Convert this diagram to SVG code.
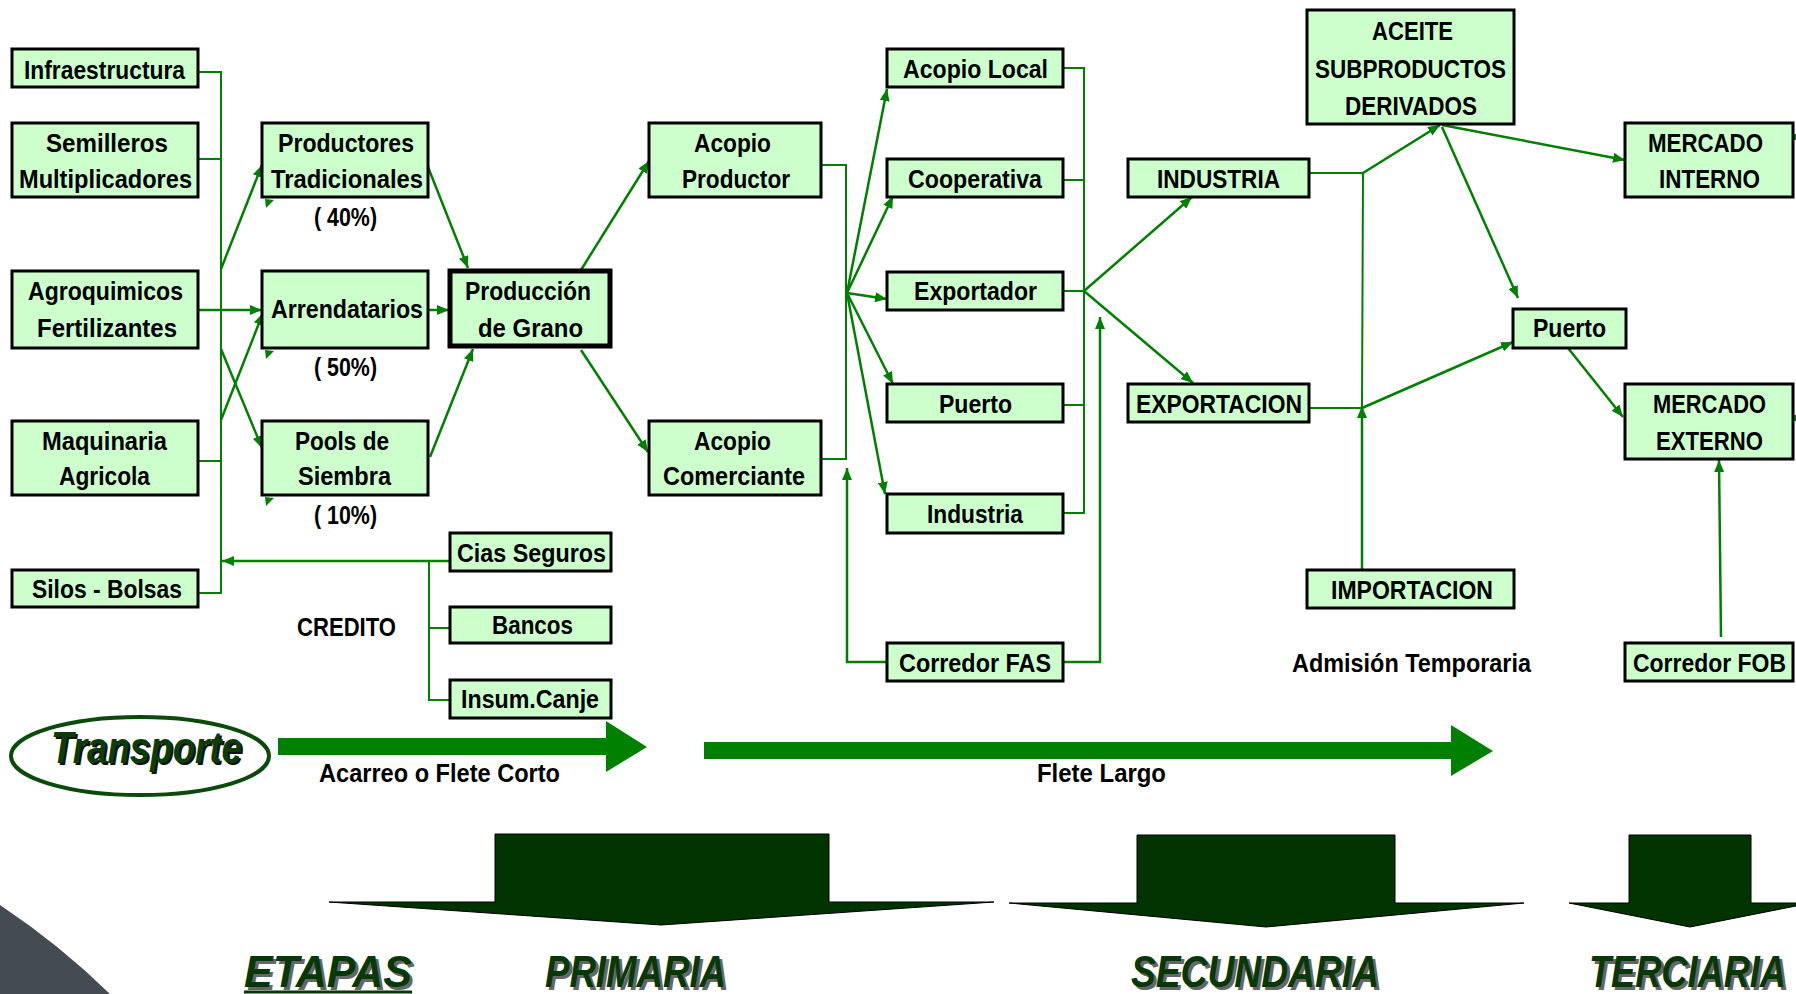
<svg xmlns="http://www.w3.org/2000/svg" width="1796" height="994" viewBox="0 0 1796 994">
<style>
.box{fill:#ccffcc;stroke:#000;stroke-width:3}
.thick{fill:#ccffcc;stroke:#000;stroke-width:5}
.t{font-family:"Liberation Sans",Arial,sans-serif;font-weight:bold;font-size:26px;fill:#000;text-anchor:middle}
.tu{font-family:"Liberation Sans",Arial,sans-serif;font-weight:bold;font-size:25px;fill:#000;text-anchor:middle}
.ln{fill:none;stroke:#008000;stroke-width:2}
.ar{fill:none;stroke:#008000;stroke-width:2.5;marker-end:url(#ah)}
.big{fill:#023402;stroke:#000;stroke-width:1}
.fl{fill:#008000}
.hd{font-family:"Liberation Sans",Arial,sans-serif;font-weight:bold;font-style:italic;font-size:44px;text-anchor:middle}
</style>
<defs>
<marker id="ah" markerUnits="userSpaceOnUse" markerWidth="13" markerHeight="10" refX="12" refY="5" orient="auto">
<path d="M0,0 L12,5 L0,10 z" fill="#008000"/>
</marker>
</defs>
<rect width="1796" height="994" fill="#fff"/>
<path d="M0,905 Q60,945 110,994 L0,994 Z" fill="#454b52"/>

<g id="connectors">
<polyline class="ln" points="198,72 221,72 221,593 198,593"/>
<line class="ln" x1="198" y1="159" x2="221" y2="159"/>
<line class="ln" x1="198" y1="461" x2="221" y2="461"/>
<line class="ar" x1="198" y1="310" x2="262" y2="310"/>
<line class="ar" x1="221" y1="269" x2="262" y2="165"/>
<line class="ar" x1="221" y1="349" x2="262" y2="448"/>
<line class="ar" x1="221" y1="420" x2="263" y2="313"/>
<line class="ar" x1="450" y1="561" x2="222" y2="561"/>
<polyline class="ln" points="450,628 429,628 429,561"/>
<polyline class="ln" points="450,700 429,700 429,628"/>
<polygon class="fl" points="265,199 274,200 266,208"/>
<polygon class="fl" points="265,350 274,351 266,359"/>
<polygon class="fl" points="265,497 274,498 266,506"/>
<line class="ar" x1="428" y1="167" x2="468" y2="268"/>
<line class="ar" x1="428" y1="310" x2="449" y2="310"/>
<line class="ar" x1="430" y1="457" x2="473" y2="349"/>
<line class="ar" x1="581" y1="270" x2="649" y2="161"/>
<line class="ar" x1="581" y1="350" x2="648" y2="452"/>
<polyline class="ln" points="821,165 846,165 846,459 821,459"/>
<line class="ar" x1="847" y1="293" x2="887" y2="89"/>
<line class="ar" x1="847" y1="293" x2="893" y2="196"/>
<line class="ar" x1="847" y1="293" x2="887" y2="299"/>
<line class="ar" x1="847" y1="293" x2="893" y2="384"/>
<line class="ar" x1="847" y1="293" x2="885" y2="494"/>
<polyline class="ar" points="887,662 847,662 847,468"/>
<polyline class="ln" points="1063,68 1084,68 1084,513 1063,513"/>
<line class="ln" x1="1063" y1="180" x2="1084" y2="180"/>
<line class="ln" x1="1063" y1="291" x2="1084" y2="291"/>
<line class="ln" x1="1063" y1="405" x2="1084" y2="405"/>
<line class="ar" x1="1084" y1="291" x2="1192" y2="197"/>
<line class="ar" x1="1084" y1="291" x2="1193" y2="383"/>
<polyline class="ar" points="1063,662 1100,662 1100,317"/>
<polyline class="ln" points="1309,173 1363,173"/>
<line class="ar" x1="1363" y1="173" x2="1440" y2="125"/>
<polyline class="ln" points="1309,408 1362,408"/>
<line class="ar" x1="1362" y1="408" x2="1513" y2="342"/>
<line class="ar" x1="1362" y1="570" x2="1362" y2="406"/>
<line class="ln" x1="1362" y1="408" x2="1363" y2="173"/>
<line class="ar" x1="1442" y1="125" x2="1625" y2="160"/>
<line class="ar" x1="1442" y1="127" x2="1518" y2="298"/>
<line class="ar" x1="1568" y1="348" x2="1623" y2="417"/>
<line class="ar" x1="1721" y1="637" x2="1719" y2="460"/>
<rect class="fl" x="1793" y="134" width="3" height="6"/>
<rect class="fl" x="1793" y="415" width="3" height="6"/>
</g>

<g id="n-infraestructura"><rect class="box" x="12" y="49" width="186" height="38"/><text class="t" x="104.5" y="79" textLength="161" lengthAdjust="spacingAndGlyphs">Infraestructura</text></g>
<g id="n-semilleros"><rect class="box" x="12" y="123" width="186" height="74"/><text class="t" x="107" y="152" textLength="122" lengthAdjust="spacingAndGlyphs">Semilleros</text><text class="t" x="105.5" y="188" textLength="173" lengthAdjust="spacingAndGlyphs">Multiplicadores</text></g>
<g id="n-agroquimicos"><rect class="box" x="12" y="271" width="186" height="77"/><text class="t" x="105.5" y="300" textLength="155" lengthAdjust="spacingAndGlyphs">Agroquimicos</text><text class="t" x="107" y="337" textLength="140" lengthAdjust="spacingAndGlyphs">Fertilizantes</text></g>
<g id="n-maquinaria"><rect class="box" x="12" y="421" width="186" height="74"/><text class="t" x="104.5" y="450" textLength="125" lengthAdjust="spacingAndGlyphs">Maquinaria</text><text class="t" x="104.5" y="485" textLength="91" lengthAdjust="spacingAndGlyphs">Agricola</text></g>
<g id="n-silos"><rect class="box" x="12" y="570" width="186" height="37"/><text class="t" x="107" y="598" textLength="150" lengthAdjust="spacingAndGlyphs">Silos - Bolsas</text></g>

<g id="n-productores"><rect class="box" x="262" y="123" width="166" height="74"/><text class="t" x="346" y="152" textLength="136" lengthAdjust="spacingAndGlyphs">Productores</text><text class="t" x="347" y="188" textLength="152" lengthAdjust="spacingAndGlyphs">Tradicionales</text><text class="t" x="345.5" y="226" textLength="63" lengthAdjust="spacingAndGlyphs">( 40%)</text></g>
<g id="n-arrendatarios"><rect class="box" x="262" y="271" width="166" height="77"/><text class="t" x="347" y="318" textLength="152" lengthAdjust="spacingAndGlyphs">Arrendatarios</text><text class="t" x="345.5" y="376" textLength="63" lengthAdjust="spacingAndGlyphs">( 50%)</text></g>
<g id="n-pools"><rect class="box" x="262" y="421" width="166" height="74"/><text class="t" x="342" y="450" textLength="94" lengthAdjust="spacingAndGlyphs">Pools de</text><text class="t" x="344.5" y="485" textLength="93" lengthAdjust="spacingAndGlyphs">Siembra</text><text class="t" x="345.5" y="524" textLength="63" lengthAdjust="spacingAndGlyphs">( 10%)</text></g>

<g id="n-produccion"><rect class="thick" x="450" y="271" width="160" height="75"/><text class="t" x="528" y="300" textLength="126" lengthAdjust="spacingAndGlyphs">Producción</text><text class="t" x="530.5" y="337" textLength="105" lengthAdjust="spacingAndGlyphs">de Grano</text></g>

<g id="n-cias"><rect class="box" x="450" y="533" width="161" height="38"/><text class="t" x="531.5" y="562" textLength="149" lengthAdjust="spacingAndGlyphs">Cias Seguros</text></g>
<g id="n-bancos"><rect class="box" x="450" y="607" width="161" height="36"/><text class="t" x="532.5" y="634" textLength="81" lengthAdjust="spacingAndGlyphs">Bancos</text></g>
<g id="n-insum"><rect class="box" x="450" y="680" width="161" height="38"/><text class="t" x="530" y="708" textLength="138" lengthAdjust="spacingAndGlyphs">Insum.Canje</text></g>
<g id="l-credito"><text class="t" x="346.5" y="636" textLength="99" lengthAdjust="spacingAndGlyphs">CREDITO</text></g>

<g id="n-acopio-productor"><rect class="box" x="649" y="123" width="172" height="74"/><text class="t" x="732.5" y="152" textLength="77" lengthAdjust="spacingAndGlyphs">Acopio</text><text class="t" x="736" y="188" textLength="108" lengthAdjust="spacingAndGlyphs">Productor</text></g>
<g id="n-acopio-comerciante"><rect class="box" x="649" y="421" width="172" height="74"/><text class="t" x="732.5" y="450" textLength="77" lengthAdjust="spacingAndGlyphs">Acopio</text><text class="t" x="734" y="485" textLength="142" lengthAdjust="spacingAndGlyphs">Comerciante</text></g>

<g id="n-acopio-local"><rect class="box" x="887" y="49" width="176" height="38"/><text class="t" x="975.5" y="78" textLength="145" lengthAdjust="spacingAndGlyphs">Acopio Local</text></g>
<g id="n-cooperativa"><rect class="box" x="887" y="159" width="176" height="38"/><text class="t" x="975" y="188" textLength="134" lengthAdjust="spacingAndGlyphs">Cooperativa</text></g>
<g id="n-exportador"><rect class="box" x="887" y="272" width="176" height="38"/><text class="t" x="975.5" y="300" textLength="123" lengthAdjust="spacingAndGlyphs">Exportador</text></g>
<g id="n-puerto1"><rect class="box" x="887" y="384" width="176" height="38"/><text class="t" x="975.5" y="413" textLength="73" lengthAdjust="spacingAndGlyphs">Puerto</text></g>
<g id="n-industria1"><rect class="box" x="887" y="494" width="176" height="39"/><text class="t" x="975" y="523" textLength="96" lengthAdjust="spacingAndGlyphs">Industria</text></g>
<g id="n-corredor-fas"><rect class="box" x="887" y="643" width="176" height="38"/><text class="t" x="975" y="672" textLength="152" lengthAdjust="spacingAndGlyphs">Corredor FAS</text></g>

<g id="n-industria2"><rect class="box" x="1128" y="159" width="181" height="38"/><text class="t" x="1218.5" y="188" textLength="123" lengthAdjust="spacingAndGlyphs">INDUSTRIA</text></g>
<g id="n-exportacion"><rect class="box" x="1128" y="384" width="181" height="38"/><text class="t" x="1219" y="413" textLength="166" lengthAdjust="spacingAndGlyphs">EXPORTACION</text></g>

<g id="n-aceite"><rect class="box" x="1307" y="10" width="207" height="114"/><text class="tu" x="1412.5" y="40" textLength="81" lengthAdjust="spacingAndGlyphs">ACEITE</text><text class="tu" x="1410.5" y="78" textLength="191" lengthAdjust="spacingAndGlyphs">SUBPRODUCTOS</text><text class="tu" x="1411" y="115" textLength="132" lengthAdjust="spacingAndGlyphs">DERIVADOS</text></g>
<g id="n-importacion"><rect class="box" x="1307" y="570" width="207" height="38"/><text class="t" x="1412" y="599" textLength="162" lengthAdjust="spacingAndGlyphs">IMPORTACION</text></g>
<g id="l-admision"><text class="t" x="1411.5" y="672" textLength="239" lengthAdjust="spacingAndGlyphs">Admisión Temporaria</text></g>
<g id="n-puerto2"><rect class="box" x="1513" y="309" width="113" height="39"/><text class="t" x="1569.5" y="337" textLength="73" lengthAdjust="spacingAndGlyphs">Puerto</text></g>
<g id="n-mercado-interno"><rect class="box" x="1625" y="123" width="168" height="74"/><text class="tu" x="1705.5" y="152" textLength="115" lengthAdjust="spacingAndGlyphs">MERCADO</text><text class="tu" x="1709.5" y="188" textLength="101" lengthAdjust="spacingAndGlyphs">INTERNO</text></g>
<g id="n-mercado-externo"><rect class="box" x="1625" y="384" width="168" height="75"/><text class="tu" x="1709.5" y="413" textLength="113" lengthAdjust="spacingAndGlyphs">MERCADO</text><text class="tu" x="1709.5" y="450" textLength="107" lengthAdjust="spacingAndGlyphs">EXTERNO</text></g>
<g id="n-corredor-fob"><rect class="box" x="1625" y="643" width="168" height="38"/><text class="t" x="1709.5" y="672" textLength="153" lengthAdjust="spacingAndGlyphs">Corredor FOB</text></g>

<g id="transporte">
<ellipse cx="140" cy="756" rx="129" ry="39" fill="#fff" stroke="#0a4a0a" stroke-width="4"/>
<text class="hd" x="148.5" y="765" font-size="35" textLength="191" lengthAdjust="spacingAndGlyphs" fill="#111">Transporte</text>
<text class="hd" x="146.5" y="763" font-size="35" textLength="191" lengthAdjust="spacingAndGlyphs" fill="#0b3d0b">Transporte</text>
</g>
<g id="flete-corto">
<polygon class="fl" points="278,738 606,738 606,721 647,747 606,772 606,755 278,755"/>
<text class="t" x="439.5" y="782" font-weight="normal" textLength="241" lengthAdjust="spacingAndGlyphs">Acarreo o Flete Corto</text>
</g>
<g id="flete-largo">
<polygon class="fl" points="704,742 1451,742 1451,725 1493,751 1451,776 1451,759 704,759"/>
<text class="t" x="1101.5" y="782" textLength="129" lengthAdjust="spacingAndGlyphs">Flete Largo</text>
</g>

<g id="etapa-primaria">
<polygon class="big" points="329,902 495,902 495,834 829,834 829,902 994,902 661,925"/>
<text class="hd" x="638.5" y="990" textLength="181" lengthAdjust="spacingAndGlyphs" fill="#666">PRIMARIA</text>
<text class="hd" x="635.5" y="987" textLength="181" lengthAdjust="spacingAndGlyphs" fill="#073807">PRIMARIA</text>
</g>
<g id="etapa-secundaria">
<polygon class="big" points="1009,903 1137,903 1137,835 1395,835 1395,903 1524,903 1266,927"/>
<text class="hd" x="1258" y="990" textLength="248" lengthAdjust="spacingAndGlyphs" fill="#666">SECUNDARIA</text>
<text class="hd" x="1255" y="987" textLength="248" lengthAdjust="spacingAndGlyphs" fill="#073807">SECUNDARIA</text>
</g>
<g id="etapa-terciaria">
<polygon class="big" points="1569,903 1629,903 1629,835 1751,835 1751,903 1811,903 1690,927"/>
<text class="hd" x="1690.5" y="990" textLength="197" lengthAdjust="spacingAndGlyphs" fill="#666">TERCIARIA</text>
<text class="hd" x="1687.5" y="987" textLength="197" lengthAdjust="spacingAndGlyphs" fill="#073807">TERCIARIA</text>
</g>
<g id="etapas">
<text class="hd" x="331" y="990" textLength="168" lengthAdjust="spacingAndGlyphs" fill="#666">ETAPAS</text>
<text class="hd" x="328" y="987" textLength="168" lengthAdjust="spacingAndGlyphs" fill="#073807">ETAPAS</text>
<line x1="244" y1="992" x2="412" y2="992" stroke="#073807" stroke-width="3"/>
</g>
</svg>
